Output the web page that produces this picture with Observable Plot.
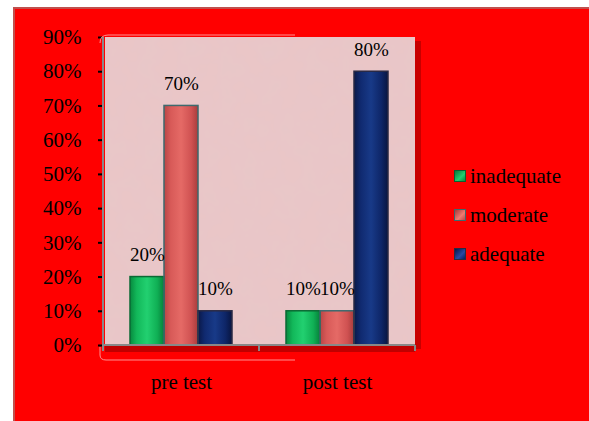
<!DOCTYPE html>
<html><head><meta charset="utf-8">
<script src="https://cdn.jsdelivr.net/npm/d3@7"></script>
<script src="https://cdn.jsdelivr.net/npm/@observablehq/plot@0.6"></script>
<style>
body{margin:0;background:#fff;}
#wrap{position:relative;width:589px;height:421px;overflow:hidden;font-family:"Liberation Serif","Times New Roman",serif;}
#panel{position:absolute;left:13px;top:7px;width:580px;height:420px;background:#ff0000;border-left:2px solid #c0504d;border-top:2px solid #c0504d;box-sizing:border-box;}
#chart{position:absolute;left:0;top:0;}
.leg{position:absolute;left:454px;font-size:21px;color:#000;line-height:22px;}
.leg span.sw{position:absolute;left:0;top:5px;width:12px;height:12px;box-sizing:border-box;}
.leg span.t{position:absolute;left:16px;top:0;white-space:nowrap;}
</style></head>
<body>
<div id="wrap"><div id="panel"></div><div id="chart"></div>
<div class="leg" style="top:165px"><span class="sw" style="background:linear-gradient(135deg,#0a7a3a,#1fd070 60%,#0b8a40);border:1px solid #0a6030"></span><span class="t">inadequate</span></div>
<div class="leg" style="top:204px"><span class="sw" style="background:linear-gradient(135deg,#a83a3a,#f07a70 60%,#c04848);border:1px solid #3d6a6e"></span><span class="t">moderate</span></div>
<div class="leg" style="top:243px"><span class="sw" style="background:linear-gradient(135deg,#06164a,#2a4aa0 60%,#0a1e5e);border:1px solid #2a2a40"></span><span class="t">adequate</span></div>
</div>
<script>
const tests = ["pre test", "post test"];
const levels = ["inadequate", "moderate", "adequate"];
const inadequate = [0.20, 0.10];
const moderate = [0.70, 0.10];
const adequate = [0.10, 0.80];
const yTicks = [0, 0.1, 0.2, 0.3, 0.4, 0.5, 0.6, 0.7, 0.8, 0.9];

const series = {inadequate, moderate, adequate};
const data = [];
tests.forEach((t, i) => levels.forEach(l => data.push({test: t, level: l, value: series[l][i]})));

const strokes = {inadequate: "#0a6a34", moderate: "#3d6a6e", adequate: "#2a2a44"};
const font = "'Liberation Serif', 'Times New Roman', serif";

const chart = Plot.plot({
  width: 589, height: 421,
  marginLeft: 103, marginRight: 174, marginTop: 37, marginBottom: 76,
  style: {background: "transparent", fontFamily: font, fontSize: "21px", color: "#000"},
  fx: {domain: tests, padding: 0, label: null, tickSize: 0, tickPadding: 29},
  x: {domain: levels, paddingInner: 0, paddingOuter: 0.75, axis: null},
  y: {domain: [0, 0.9], ticks: yTicks, tickFormat: d3.format(".0%"), tickSize: 5, tickPadding: 17, label: null},
  color: {domain: levels, range: ["url(#gIn)", "url(#gMod)", "url(#gAd)"]},
  marks: [
    Plot.barY(data, {fx: "test", x: "level", y: "value", fill: "level"}),
    ...levels.map(l => Plot.barY(data.filter(d => d.level === l), {fx: "test", x: "level", y: "value", fill: "none", stroke: strokes[l], strokeWidth: 1.5})),
    Plot.text(data, {fx: "test", x: "level", y: "value", text: d => d3.format(".0%")(d.value), dy: -22, fontSize: 19, fill: "#000"})
  ]
});
document.getElementById("chart").appendChild(chart);

// decorations driven by the chart's scales
const svg = d3.select(chart);
const fx = chart.scale("fx"), y = chart.scale("y");
const x0 = fx.apply(tests[0]), x1 = fx.apply(tests[tests.length - 1]) + fx.bandwidth;
const y0 = y.apply(0), yTop = y.apply(0.9);

const defs = svg.insert("defs", ":first-child");
function grad(id, stops) {
  const g = defs.append("linearGradient").attr("id", id).attr("x1", 0).attr("x2", 1).attr("y1", 0).attr("y2", 0);
  stops.forEach(([o, c]) => g.append("stop").attr("offset", o).attr("stop-color", c));
}
grad("gIn", [[0, "#078a3e"], [0.2, "#12b85a"], [0.5, "#22d070"], [0.8, "#10b055"], [1, "#06803a"]]);
grad("gMod", [[0, "#b84545"], [0.2, "#d85a58"], [0.5, "#e56a66"], [0.8, "#d05252"], [1, "#a83c3c"]]);
grad("gAd", [[0, "#0a1848"], [0.2, "#102a70"], [0.5, "#183a88"], [0.8, "#0e2668"], [1, "#081540"]]);
const f = defs.append("filter").attr("id", "noise").attr("x", 0).attr("y", 0).attr("width", 1).attr("height", 1);
f.append("feTurbulence").attr("type", "fractalNoise").attr("baseFrequency", 0.05).attr("numOctaves", 3).attr("seed", 4);
f.append("feColorMatrix").attr("values", "0 0 0 0 0.78  0 0 0 0 0.58  0 0 0 0 0.60  0 0 0 0.6 -0.15");

const deco = svg.insert("g", "g[aria-label='bar']");
deco.append("rect").attr("x", x1).attr("y", yTop + 4).attr("width", 6).attr("height", y0 - yTop).attr("fill", "#c80000");
deco.append("rect").attr("x", x0 + 2).attr("y", y0).attr("width", x1 - x0 - 2).attr("height", 7).attr("fill", "#c00000");
deco.append("rect").attr("x", x0 + 2).attr("y", yTop).attr("width", x1 - x0 - 2).attr("height", y0 - yTop).attr("fill", "#eac6c7");
deco.append("rect").attr("x", x0 + 2).attr("y", yTop).attr("width", x1 - x0 - 2).attr("height", y0 - yTop).attr("filter", "url(#noise)").attr("fill", "#fff");
deco.append("path").attr("d", `M${x0 - 3},${y0 + 2} V${y0 + 10} Q${x0 - 3},${y0 + 15} ${x0 + 3},${y0 + 15} H${x1 - 120}`).attr("fill", "none").attr("stroke", "#ff9090").attr("stroke-width", 1);
deco.append("path").attr("d", `M${x0 - 3},${yTop + 6} Q${x0 - 3},${yTop - 2} ${x0 + 5},${yTop - 2} H${x1 - 120}`).attr("fill", "none").attr("stroke", "#ff9090").attr("stroke-width", 1);
const ax = svg.append("g").attr("stroke", "#888").attr("stroke-width", 2);
ax.append("line").attr("x1", x0).attr("x2", x0).attr("y1", yTop).attr("y2", y0 + 2);
ax.append("line").attr("x1", x0).attr("x2", x1).attr("y1", y0).attr("y2", y0);
tests.forEach(t => { const xx = fx.apply(t) + fx.bandwidth; ax.append("line").attr("x1", xx).attr("x2", xx).attr("y1", y0).attr("y2", y0 + 6); });
ax.append("line").attr("x1", x0).attr("x2", x0).attr("y1", y0).attr("y2", y0 + 6);
svg.selectAll("[aria-label='y-axis tick']").attr("stroke", "#888").attr("stroke-width", 2);
</script>
</body></html>
